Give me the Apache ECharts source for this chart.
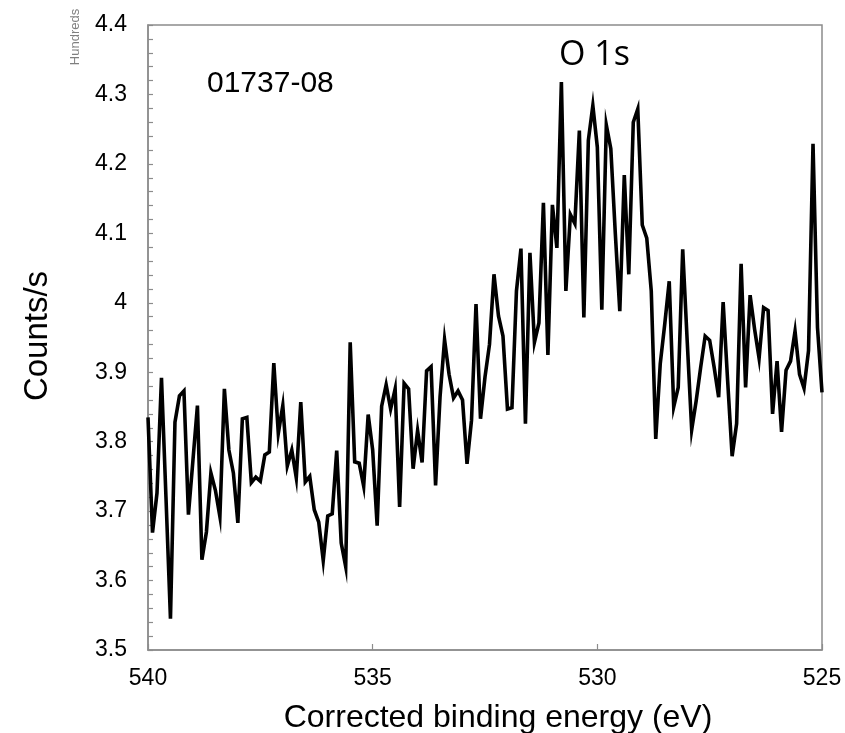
<!DOCTYPE html>
<html>
<head>
<meta charset="utf-8">
<script src="https://cdn.jsdelivr.net/npm/echarts@6/dist/echarts.min.js"></script>
<style>
html,body{margin:0;padding:0;background:#fff;}
#chart{width:845px;height:733px;}
</style>
</head>
<body>
<div id="chart"></div>
<script>
// Binding energy grid (eV): 540 down to 525 in 0.1 eV steps
var energyStart = 540;
var energyStep = 0.1;
// Counts/s (hundreds), one value per energy step
var counts = [
3.835,3.669,3.726,3.892,3.720,3.545,3.828,3.866,3.873,3.695,
3.773,3.852,3.630,3.670,3.755,3.730,3.692,3.876,3.788,3.755,
3.683,3.833,3.835,3.741,3.749,3.743,3.781,3.785,3.913,3.812,
3.852,3.765,3.788,3.748,3.857,3.742,3.750,3.702,3.684,3.629,
3.693,3.696,3.787,3.654,3.620,3.943,3.771,3.769,3.736,3.839,
3.788,3.679,3.851,3.882,3.847,3.876,3.706,3.884,3.876,3.761,
3.816,3.770,3.902,3.908,3.737,3.865,3.947,3.897,3.863,3.873,
3.860,3.768,3.831,3.998,3.833,3.893,3.940,4.041,3.981,3.952,
3.847,3.849,4.017,4.078,3.826,4.072,3.943,3.971,4.144,3.925,
4.141,4.079,4.318,4.017,4.127,4.114,4.248,3.979,4.234,4.284,
4.224,3.990,4.256,4.222,4.100,3.988,4.184,4.041,4.260,4.279,
4.112,4.093,4.017,3.804,3.912,3.969,4.031,3.850,3.878,4.077,
3.945,3.817,3.859,3.907,3.952,3.946,3.907,3.864,4.001,3.888,
3.779,3.826,4.056,3.878,4.011,3.962,3.920,3.993,3.989,3.840,
3.916,3.814,3.903,3.916,3.959,3.897,3.877,3.931,4.229,3.964,
3.871
];
var xTicks = [540, 535, 530, 525];
var sampleLabel = '01737-08';
var peakLabel = 'O 1s';
var unitLabel = 'Hundreds';
var xTitle = 'Corrected binding energy (eV)';
var yTitle = 'Counts/s';

var seriesData = counts.map(function (v, i) {
  return [Math.round((energyStart - energyStep * i) * 10) / 10, v];
});

var axisGray = '#8c8c8c';
var chart = echarts.init(document.getElementById('chart'), null, {renderer: 'canvas'});
chart.setOption({
  animation: false,
  backgroundColor: '#ffffff',
  grid: {left: 148, right: 23, top: 25, bottom: 83, outerBoundsMode: 'none', containLabel: false,
    show: true, borderColor: axisGray, borderWidth: 1.5, backgroundColor: 'transparent'},
  xAxis: {
    type: 'value',
    min: 525, max: 540, interval: 5, inverse: true,
    axisLine: {show: true, lineStyle: {color: axisGray, width: 1.5}},
    axisTick: {show: true, inside: true, length: 6, lineStyle: {color: axisGray, width: 1.2}},
    axisLabel: {fontFamily: 'Liberation Sans', fontSize: 23, color: '#000', margin: 17,
      formatter: function (v) { return xTicks.indexOf(v) >= 0 ? String(v) : ''; }},
    splitLine: {show: false}
  },
  yAxis: {
    type: 'value',
    min: 3.5, max: 4.4, interval: 0.1,
    axisLine: {show: true, lineStyle: {color: axisGray, width: 1.5}},
    axisTick: {show: true, inside: true, length: 5, lineStyle: {color: axisGray, width: 1.2}},
    minorTick: {show: true, splitNumber: 5, length: 5, lineStyle: {color: axisGray, width: 1.2}},
    axisLabel: {fontFamily: 'Liberation Sans', fontSize: 23, color: '#000', margin: 21,
      formatter: function (v) { return String(Math.round(v * 10) / 10); }},
    splitLine: {show: false}
  },
  series: [{
    type: 'line',
    data: seriesData,
    showSymbol: false,
    lineStyle: {color: '#000', width: 3.6, join: 'miter'},
    itemStyle: {color: '#000'}
  }],
  graphic: [
    {type: 'text', x: 498, y: 718,
      style: {text: xTitle, fontFamily: 'Liberation Sans', fontSize: 32, fill: '#000', align: 'center', verticalAlign: 'middle'}},
    {type: 'text', x: 38, y: 336, rotation: Math.PI / 2,
      style: {text: yTitle, fontFamily: 'Liberation Sans', fontSize: 33, fill: '#000', align: 'center', verticalAlign: 'middle'}},
    {type: 'text', left: 207, top: 69, style: {text: sampleLabel, fontFamily: 'Liberation Sans', fontSize: 30, fill: '#000'}},
    {type: 'text', left: 559, top: 38, style: {text: peakLabel, fontFamily: 'Open Sans', fontSize: 34, fill: '#000'}},
    {type: 'text', x: 75, y: 37, rotation: Math.PI / 2,
      style: {text: unitLabel, fontFamily: 'Liberation Sans', fontSize: 13, fill: '#7f7f7f', align: 'center', verticalAlign: 'middle'}}
  ]
});
</script>
</body>
</html>
